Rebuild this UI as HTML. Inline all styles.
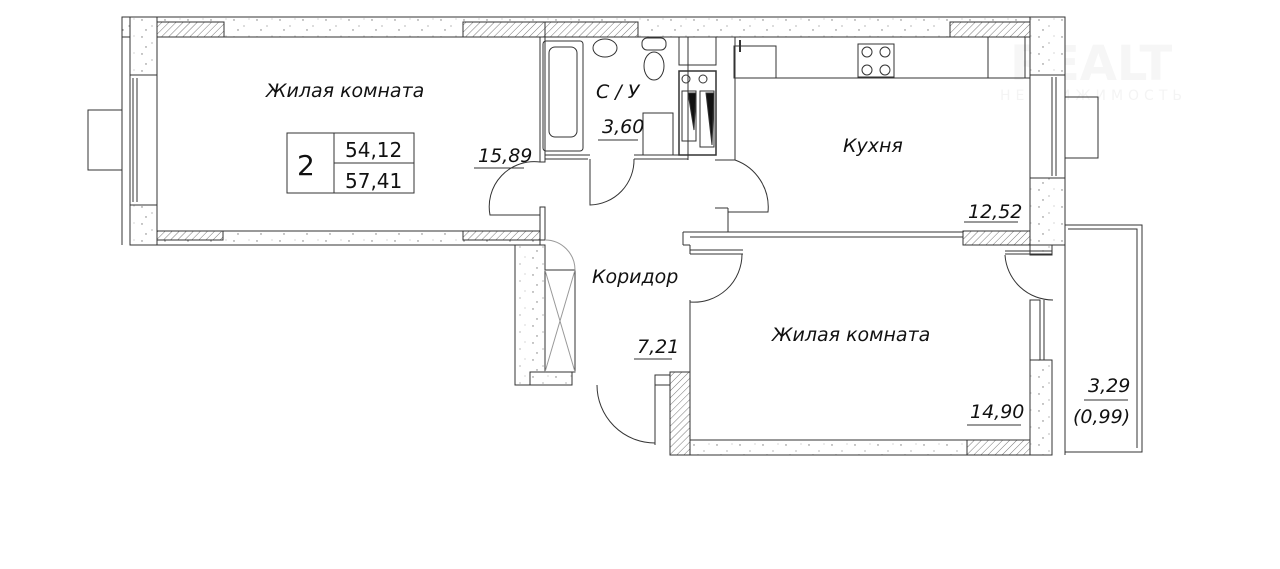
<!DOCTYPE html>
<html><head><meta charset="utf-8"><style>
html,body{margin:0;padding:0;background:#fff;width:1280px;height:569px;overflow:hidden}
svg{display:block}
text{font-family:"DejaVu Sans","Liberation Sans",sans-serif;font-style:italic;fill:#111}
</style></head><body>
<svg width="1280" height="569" viewBox="0 0 1280 569" xmlns="http://www.w3.org/2000/svg">
<defs>
<pattern id="h" width="5" height="5" patternUnits="userSpaceOnUse" patternTransform="rotate(45)"><rect width="5" height="5" fill="#fff"/><line x1="0" y1="0" x2="0" y2="5" stroke="#777" stroke-width="1"/></pattern>
<pattern id="d" width="23" height="17" patternUnits="userSpaceOnUse"><rect width="23" height="17" fill="#fff"/><circle cx="4" cy="3" r="0.7" fill="#777"/><circle cx="14" cy="9" r="0.6" fill="#888"/><circle cx="8" cy="13" r="0.7" fill="#777"/><circle cx="19" cy="2" r="0.5" fill="#999"/></pattern>
</defs>
<!-- watermark -->
<g font-family="Liberation Sans,sans-serif">
<text x="1010" y="80" font-size="48" font-weight="bold" style="font-style:normal;fill:#f6f6f6">REALT</text>
<text x="1000" y="100" font-size="14" style="font-style:normal;fill:#f4f4f4" letter-spacing="5">НЕДВИЖИМОСТЬ</text>
</g>
<g stroke="#333" stroke-width="1" fill="none">
<!-- top wall -->
<rect x="122" y="17" width="943" height="20" fill="url(#d)"/>
<rect x="157" y="22" width="67" height="15" fill="url(#h)"/>
<rect x="463" y="22" width="82" height="15" fill="url(#h)"/>
<rect x="545" y="22" width="93" height="15" fill="url(#h)"/>
<rect x="950" y="22" width="80" height="15" fill="url(#h)"/>
<!-- left wall -->
<rect x="130" y="17" width="27" height="228" fill="url(#d)"/>
<line x1="122" y1="17" x2="122" y2="245"/>
<rect x="130" y="75" width="27" height="130" fill="#fff"/>
<line x1="133" y1="78" x2="133" y2="202"/><line x1="137" y1="78" x2="137" y2="202"/>
<rect x="88" y="110" width="34" height="60"/>
<!-- left room bottom -->
<rect x="157" y="231" width="383" height="14" fill="url(#d)"/>
<rect x="157" y="231" width="66" height="9" fill="url(#h)"/>
<rect x="463" y="231" width="77" height="9" fill="url(#h)"/>
<!-- partition left room / bath -->
<rect x="540" y="37" width="5" height="125" fill="#fff"/>
<rect x="540" y="207" width="5" height="33" fill="#fff"/>
<!-- bath bottom -->
<line x1="545" y1="155" x2="590" y2="155"/><line x1="545" y1="159" x2="588" y2="159"/>
<line x1="634" y1="155" x2="688" y2="155"/><line x1="634" y1="159" x2="688" y2="159"/>
<!-- bathtub -->
<rect x="543" y="41" width="40" height="110" rx="3"/>
<rect x="549" y="47" width="28" height="90" rx="6"/>
<ellipse cx="605" cy="48" rx="12" ry="9"/>
<ellipse cx="654" cy="66" rx="10" ry="14"/>
<rect x="642" y="38" width="24" height="12" rx="5"/>
<rect x="643" y="113" width="30" height="42"/>
<!-- shafts/stove column -->
<line x1="688" y1="37" x2="688" y2="160"/><line x1="735" y1="37" x2="735" y2="160"/>
<rect x="679" y="37" width="37" height="28"/>
<rect x="679" y="71" width="37" height="84" stroke-width="1.5"/>
<circle cx="686" cy="79" r="4"/><circle cx="703" cy="79" r="4"/>
<path d="M682 91 L696 91 L696 141 L682 141 Z"/><path d="M700 91 L714 91 L714 147 L700 147 Z"/>
<path d="M688 93 L696 93 L694 130 Z" fill="#111"/><path d="M706 93 L714 93 L712 145 Z" fill="#111"/>
<!-- kitchen counter -->
<line x1="735" y1="78" x2="1030" y2="78"/>
<rect x="734" y="46" width="42" height="32"/>
<line x1="740" y1="40" x2="740" y2="52" stroke-width="2"/>
<rect x="858" y="44" width="36" height="33"/>
<circle cx="867" cy="52" r="5"/><circle cx="885" cy="52" r="5"/><circle cx="867" cy="70" r="5"/><circle cx="885" cy="70" r="5"/>
<rect x="988" y="37" width="37" height="41"/>
<!-- right wall -->
<rect x="1030" y="17" width="35" height="228" fill="url(#d)"/>
<line x1="1065" y1="17" x2="1065" y2="245"/>
<rect x="1030" y="75" width="35" height="103" fill="#fff"/>
<line x1="1030" y1="75" x2="1030" y2="178"/>
<line x1="1052" y1="77" x2="1052" y2="176"/><line x1="1056" y1="77" x2="1056" y2="176"/>
<rect x="1065" y="97" width="33" height="61"/>
<!-- kitchen bottom / room2 top -->
<line x1="683" y1="232" x2="963" y2="232"/><line x1="690" y1="237" x2="963" y2="237"/>
<rect x="963" y="231" width="67" height="14" fill="url(#h)"/>
<line x1="683" y1="232" x2="683" y2="245"/><line x1="683" y1="245" x2="690" y2="245"/>
<line x1="690" y1="245" x2="690" y2="254"/><line x1="690" y1="254" x2="743" y2="254"/><line x1="690" y1="250" x2="743" y2="250"/>
<!-- kitchen door opening -->
<line x1="715" y1="160" x2="735" y2="160"/>
<line x1="715" y1="208" x2="728" y2="208"/><line x1="728" y1="208" x2="728" y2="232"/>
<path d="M735 160 A50 50 0 0 1 768 212 L728 212"/>
<!-- left room door -->
<path d="M540 162 A45 45 0 0 0 490 215 L540 215"/>
<!-- bath door -->
<path d="M590 159 L590 205 A45 45 0 0 0 634 159"/>
<!-- room2 door -->
<path d="M690 302 A48 48 0 0 0 742 254"/>
<line x1="690" y1="300" x2="690" y2="375"/>
<!-- corridor left wall + shaft -->
<rect x="515" y="245" width="30" height="140" fill="url(#d)"/>
<rect x="530" y="372" width="42" height="13" fill="url(#d)"/>
<rect x="545" y="270" width="30" height="102"/>
<line x1="545" y1="270" x2="575" y2="372" stroke="#999"/><line x1="575" y1="270" x2="545" y2="372" stroke="#999"/>
<path d="M545 240 A30 30 0 0 1 575 270" stroke="#999"/>
<!-- entrance door -->
<path d="M597 385 A58 58 0 0 0 655 443"/>
<rect x="655" y="375" width="15" height="10"/><line x1="655" y1="385" x2="655" y2="445"/>
<!-- room2 walls -->
<rect x="670" y="372" width="20" height="83" fill="url(#h)"/>
<rect x="690" y="440" width="340" height="15" fill="url(#d)"/>
<rect x="967" y="440" width="63" height="15" fill="url(#h)"/>
<rect x="1030" y="245" width="22" height="10" fill="url(#d)"/>
<rect x="1030" y="360" width="22" height="95" fill="url(#d)"/>
<rect x="1030" y="300" width="10" height="60" fill="#fff"/>
<line x1="1040" y1="300" x2="1040" y2="360"/><line x1="1044" y1="300" x2="1044" y2="360"/>
<path d="M1005 255 A48 48 0 0 0 1053 300"/>
<line x1="1005" y1="254" x2="1052" y2="254"/><line x1="1005" y1="251" x2="1052" y2="251"/>
<!-- balcony -->
<path d="M1065 225 L1142 225 L1142 452 L1065 452"/>
<path d="M1068 229 L1137 229 L1137 448"/>
<line x1="1065" y1="229" x2="1065" y2="455"/>
</g>
<!-- labels -->
<text x="266" y="97" font-size="19">Жилая комната</text>
<rect x="287" y="133" width="127" height="60" fill="none" stroke="#333"/>
<line x1="334" y1="133" x2="334" y2="193" stroke="#333"/>
<line x1="334" y1="163" x2="414" y2="163" stroke="#333"/>
<text x="297" y="175" font-size="28" style="font-style:normal">2</text>
<text x="345" y="157" font-size="20" style="font-style:normal">54,12</text>
<text x="345" y="188" font-size="20" style="font-style:normal">57,41</text>
<text x="478" y="162" font-size="19">15,89</text><line x1="474" y1="168" x2="524" y2="168" stroke="#333"/>
<text x="596" y="98" font-size="19">С / У</text>
<text x="602" y="133" font-size="19">3,60</text><line x1="598" y1="140" x2="638" y2="140" stroke="#333"/>
<text x="843" y="152" font-size="19">Кухня</text>
<text x="968" y="218" font-size="19">12,52</text><line x1="964" y1="222" x2="1018" y2="222" stroke="#333"/>
<text x="592" y="283" font-size="19">Коридор</text>
<text x="637" y="353" font-size="19">7,21</text><line x1="634" y1="359" x2="672" y2="359" stroke="#333"/>
<text x="772" y="341" font-size="19">Жилая комната</text>
<text x="970" y="418" font-size="19">14,90</text><line x1="967" y1="425" x2="1021" y2="425" stroke="#333"/>
<text x="1088" y="392" font-size="19">3,29</text><line x1="1084" y1="400" x2="1128" y2="400" stroke="#333"/>
<text x="1073" y="423" font-size="19">(0,99)</text>
</svg>
</body></html>
